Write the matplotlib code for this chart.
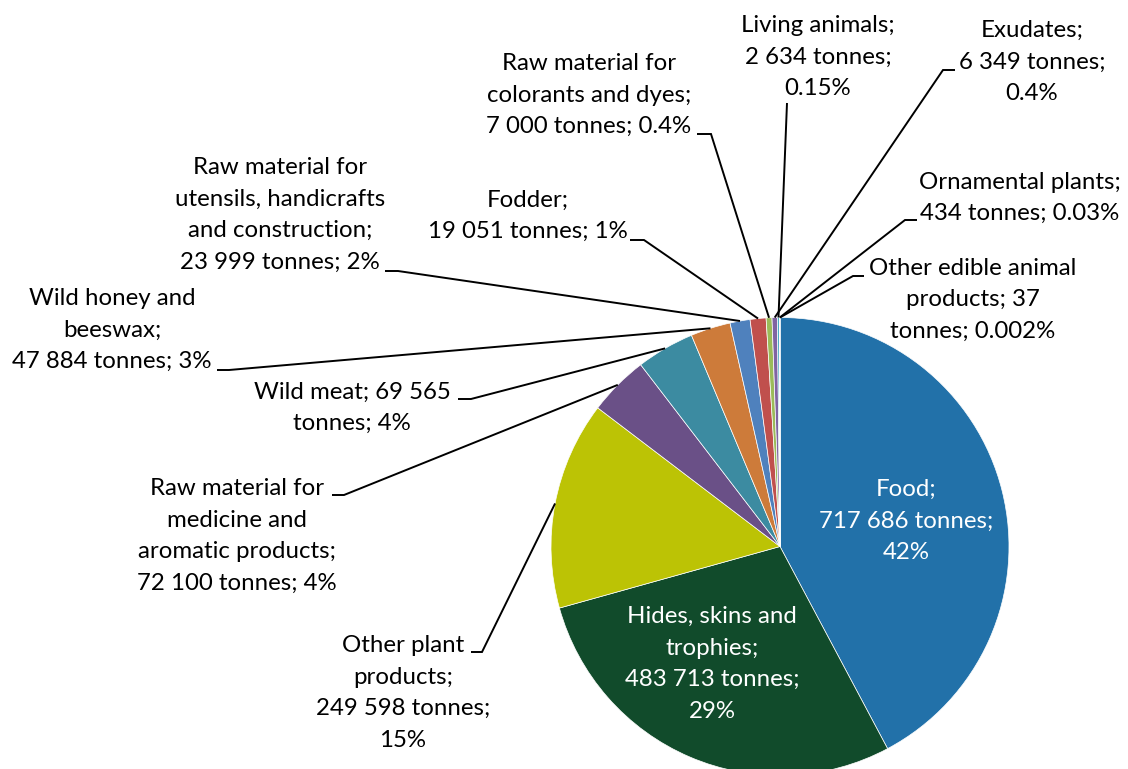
import numpy as np
import matplotlib.pyplot as plt

# tonnes of wild products by use (reading order clockwise from 12 o'clock)
categories = ["Food", "Hides, skins and trophies", "Other plant products",
              "Raw material for medicine and aromatic products", "Wild meat",
              "Wild honey and beeswax",
              "Raw material for utensils, handicrafts and construction",
              "Fodder", "Raw material for colorants and dyes", "Exudates",
              "Living animals", "Ornamental plants", "Other edible animal products"]
tonnes = [717686, 483713, 249598, 72100, 69565, 47884, 23999, 19051, 7000,
          6349, 2634, 434, 37]
labels = [
    "Food;\n717 686 tonnes;\n42%",
    "Hides, skins and\ntrophies;\n483 713 tonnes;\n29%",
    "Other plant\nproducts;\n249 598 tonnes;\n15%",
    "Raw material for\nmedicine and\naromatic products;\n72 100 tonnes; 4%",
    "Wild meat; 69 565\ntonnes; 4%",
    "Wild honey and\nbeeswax;\n47 884 tonnes; 3%",
    "Raw material for\nutensils, handicrafts\nand construction;\n23 999 tonnes; 2%",
    "Fodder;\n19 051 tonnes; 1%",
    "Raw material for\ncolorants and dyes;\n7 000 tonnes; 0.4%",
    "Exudates;\n6 349 tonnes;\n0.4%",
    "Living animals;\n2 634 tonnes;\n0.15%",
    "Ornamental plants;\n434 tonnes; 0.03%",
    "Other edible animal\nproducts; 37\ntonnes; 0.002%",
]
colors = ["#2271a9", "#114b2b", "#bcc305", "#6a5087", "#3c8ba1", "#cd7b3a",
          "#4f81bd", "#c0504d", "#9bbb59", "#8064a2", "#4bacc6", "#f79646",
          "#2c4d75"]

W, H = 1128, 769

# label placement in image pixels: text centre, tick start, tick length (None = inside)
text_xy = [(906, 521), (712, 664), (403, 693), (237, 536), (352, 408),
           (112, 330), (280, 215), (528, 216), (589, 95), (1032, 62),
           (818, 57), (1020, 198), (973, 300)]
tick_xy = [None, None, (471, 652), (332, 495), (458, 399), (217, 370),
           (385, 271), (630, 240), (697, 134), (955, 70), (787, 103),
           (917, 220), (864, 276)]
tick_len = [0, 0, 11, 12, 13, 12, 13, 14, 14, -12, 0, -12, -11]

fig = plt.figure(figsize=(W / 100, H / 100), dpi=100)
ax = fig.add_axes([0, 0, 1, 1])

center = (780, H - 546.5)
radius = 229
wedges, _ = ax.pie(tonnes, colors=colors, startangle=90, counterclock=False,
                   center=center, radius=radius,
                   wedgeprops=dict(edgecolor="white", linewidth=0.5))
ax.set_xlim(0, W)
ax.set_ylim(0, H)
ax.set_aspect("equal")
ax.axis("off")

font = "Lato"
fs = 17.3
for i, w in enumerate(wedges):
    tx, ty = text_xy[i]
    inside = tick_xy[i] is None
    ax.text(tx, H - ty, labels[i], ha="center", va="center", fontsize=fs,
            family=font, linespacing=1.62,
            color="white" if inside else "black")
    if inside:
        continue
    mid = np.deg2rad((w.theta1 + w.theta2) / 2)
    ex = center[0] + radius * np.cos(mid)
    ey = center[1] + radius * np.sin(mid)
    sx, sy = tick_xy[i]
    kx = sx + tick_len[i]
    ax.plot([sx, kx, ex], [H - sy, H - sy, ey], color="black", lw=1.4,
            solid_capstyle="butt", solid_joinstyle="miter")

fig.savefig("out.png", dpi=100)
